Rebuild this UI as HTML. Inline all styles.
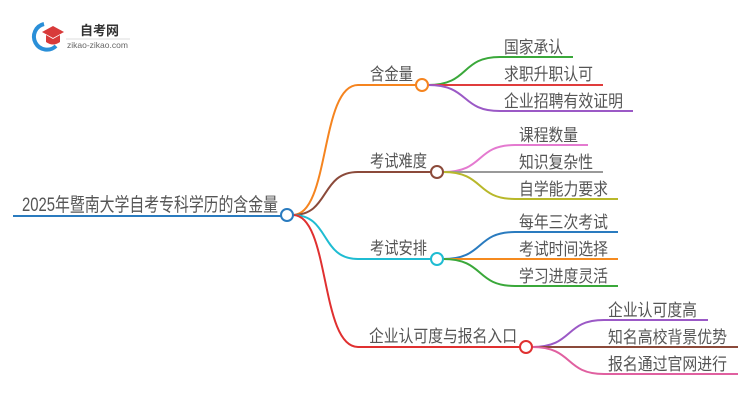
<!DOCTYPE html>
<html><head><meta charset="utf-8"><style>
body{margin:0;background:#fff}
svg text{font-family:"Liberation Sans","Noto Sans CJK SC",sans-serif;fill:#555}
</style></head><body>
<svg width="750" height="410" viewBox="0 0 750 410" xmlns="http://www.w3.org/2000/svg">
<path d="M44 24 A13 13 0 1 0 56 46" fill="none" stroke="#2a8fd8" stroke-width="4"/>
<polygon points="42,32 53,26 64,32 53,38" fill="#d83a3a"/>
<path d="M46 35 v7 q7 5 14 0 v-7 l-7 4z" fill="#d83a3a"/>
<text x="80" y="35" font-size="13" font-weight="bold" style="fill:#333">自考网</text>
<line x1="66" y1="39" x2="130" y2="39" stroke="#ddd"/>
<text x="67" y="48" font-size="8.5" style="fill:#666">zikao-zikao.com</text>

<g fill="none" stroke-width="2">
<line x1="13" y1="216" x2="281" y2="216" stroke="#2a7bbf"/>
<path d="M293 215 C330 215 320 85 358 85 H416" stroke="#f5841f"/>
<path d="M293 215 C330 215 320 172 358 172 H431" stroke="#8b4a3a"/>
<path d="M293 215 C330 215 320 259 358 259 H431" stroke="#1fbcd2"/>
<path d="M293 215 C330 215 320 347 358 347 H520" stroke="#e03030"/>
<path d="M428 85 C470 85 460 57 500 57 H573" stroke="#3aa83a"/>
<path d="M428 85 H603" stroke="#e03c3c"/>
<path d="M428 85 C470 85 460 111 500 111 H633" stroke="#9b59c6"/>
<path d="M443 172 C485 172 475 145 515 145 H588" stroke="#e47ad0"/>
<path d="M443 172 H603" stroke="#999"/>
<path d="M443 172 C485 172 475 199 515 199 H618" stroke="#b8b82a"/>
<path d="M443 259 C485 259 475 232 515 232 H618" stroke="#2a7bbf"/>
<path d="M443 259 H618" stroke="#f58a1f"/>
<path d="M443 259 C485 259 475 286 515 286 H618" stroke="#3aa83a"/>
<path d="M532 347 C574 347 564 320 604 320 H708" stroke="#9b59c6"/>
<path d="M532 347 H738" stroke="#8b4a3a"/>
<path d="M532 347 C574 347 564 374 604 374 H738" stroke="#e060a0"/>
</g>
<g fill="#fff" stroke-width="2">
<circle cx="287" cy="215" r="6" stroke="#2a7bbf"/>
<circle cx="422" cy="85" r="6" stroke="#f5841f"/>
<circle cx="437" cy="172" r="6" stroke="#8b4a3a"/>
<circle cx="437" cy="259" r="6" stroke="#1fbcd2"/>
<circle cx="526" cy="347" r="6" stroke="#e03030"/>
</g>
<g font-size="17">
<text x="22" y="211" font-size="19" textLength="256" lengthAdjust="spacingAndGlyphs">2025年暨南大学自考专科学历的含金量</text>
<text x="370" y="80" textLength="43" lengthAdjust="spacingAndGlyphs">含金量</text>
<text x="370" y="167" textLength="57" lengthAdjust="spacingAndGlyphs">考试难度</text>
<text x="370" y="254" textLength="57" lengthAdjust="spacingAndGlyphs">考试安排</text>
<text x="369" y="342" textLength="148" lengthAdjust="spacingAndGlyphs">企业认可度与报名入口</text>
<text x="504" y="53" textLength="59" lengthAdjust="spacingAndGlyphs">国家承认</text>
<text x="504" y="80" textLength="89" lengthAdjust="spacingAndGlyphs">求职升职认可</text>
<text x="504" y="107" textLength="119" lengthAdjust="spacingAndGlyphs">企业招聘有效证明</text>
<text x="519" y="141" textLength="59" lengthAdjust="spacingAndGlyphs">课程数量</text>
<text x="519" y="168" textLength="74" lengthAdjust="spacingAndGlyphs">知识复杂性</text>
<text x="519" y="195" textLength="89" lengthAdjust="spacingAndGlyphs">自学能力要求</text>
<text x="519" y="228" textLength="89" lengthAdjust="spacingAndGlyphs">每年三次考试</text>
<text x="519" y="255" textLength="89" lengthAdjust="spacingAndGlyphs">考试时间选择</text>
<text x="519" y="282" textLength="89" lengthAdjust="spacingAndGlyphs">学习进度灵活</text>
<text x="608" y="316" textLength="89" lengthAdjust="spacingAndGlyphs">企业认可度高</text>
<text x="608" y="343" textLength="119" lengthAdjust="spacingAndGlyphs">知名高校背景优势</text>
<text x="608" y="370" textLength="119" lengthAdjust="spacingAndGlyphs">报名通过官网进行</text>
</g>
</svg>
</body></html>
